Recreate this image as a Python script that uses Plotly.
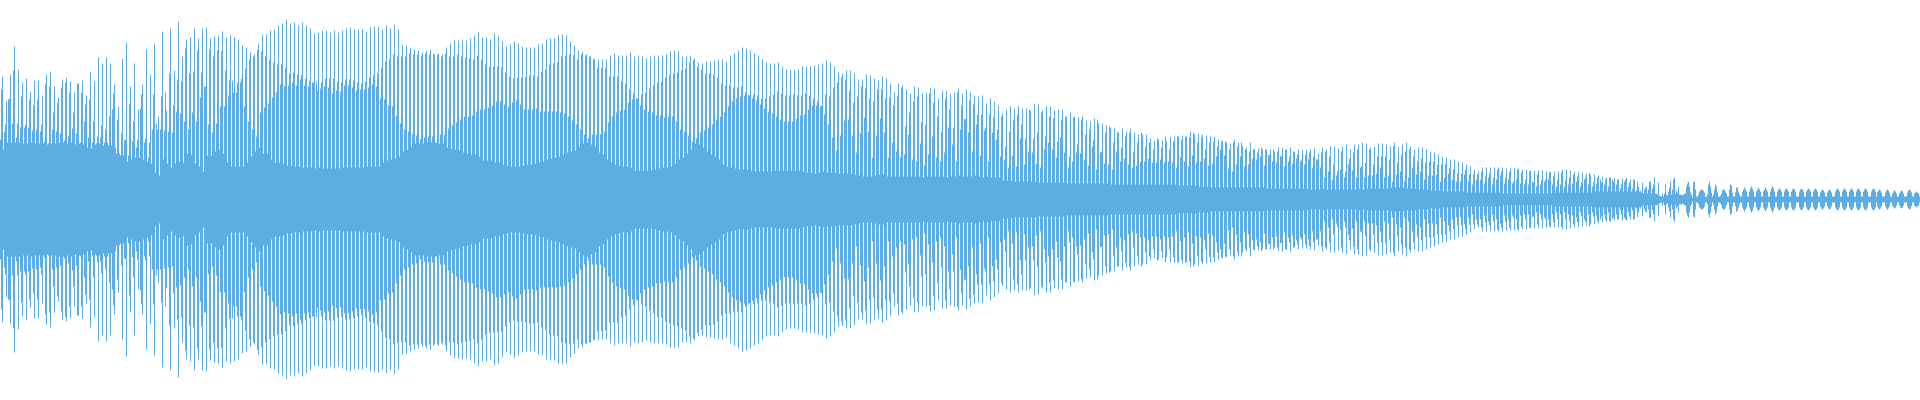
import plotly.graph_objects as go

# =====================================================
# WAVEFORM DATA (amplitude either side of the centre line)
# one value per repeat of the wave
# =====================================================

tall = [
    123,98,125,153,130,117,121,108,119,119,104,125,128,113,102,120,122,118,107,116,
    119,104,128,118,142,136,142,136,115,93,141,157,113,136,90,115,150,125,156,83,
    168,89,171,129,178,143,160,162,171,161,171,172,161,163,164,168,162,164,162,160,
    154,152,147,145,155,165,165,169,170,174,176,180,176,177,174,177,174,171,166,167,
    169,169,167,169,167,169,171,172,170,170,170,168,172,173,173,170,174,171,175,170,
    155,154,152,150,149,147,149,150,145,146,145,152,156,159,159,160,159,161,164,167,
    162,162,160,166,164,158,153,155,158,156,153,152,152,152,155,156,160,161,161,164,
    165,164,158,154,149,148,145,143,141,140,140,140,144,146,144,144,144,147,143,144,
    143,141,143,144,144,144,145,148,149,148,143,143,144,141,137,136,138,138,139,140,
    140,138,144,146,149,152,151,149,146,144,140,137,136,136,137,133,130,129,129,130,
    133,133,133,134,135,136,139,137,133,127,126,129,129,126,120,120,125,124,121,119,
    123,121,116,107,116,114,110,106,113,112,106,107,112,111,101,109,109,106,107,111,
    106,110,107,104,103,104,96,101,98,94,
    86,90,93,91,93,91,91,89,96,95,89,93,93,89,90,90,83,87,83,82,
    83,79,78,81,76,76,74,72,72,67,71,68,71,67,65,65,65,61,59,60,
    59,58,63,63,63,64,63,68,65,66,65,64,63,63,60,59,57,56,60,57,
    53,52,57,51,51,50,50,50,48,52,52,50,52,48,50,49,49,50,51,46,
    52,50,53,53,51,53,55,50,55,55,57,56,52,53,56,56,55,53,57,52,
    55,57,53,50,52,52,50,48,47,45,43,42,40,40,38,37,35,33,30,28,
    32,32,32,32,32,32,31,31,31,31,30,30,29,29,29,29,28,28,28,28,
    30,30,29,28,28,27,26,25,25,24,23,22,22,21,20,21,21,20,20,13,
    17,13,18,22,17,6,5,18,22,13,
]

upper = [
    110,75,101,129,76,103,75,100,94,100,75,115,113,87,97,112,117,107,87,116,
    107,95,100,78,63,74,70,83,106,80,66,60,96,78,60,105,61,57,105,70,
    103,107,126,94,120,118,151,126,128,149,127,113,150,143,149,148,129,119,107,117,
    121,131,140,143,150,148,143,140,137,135,135,132,126,127,125,124,121,119,117,109,
    117,121,121,121,118,117,120,120,119,117,116,118,122,124,126,132,138,140,145,143,
    143,143,146,145,145,144,146,145,146,145,143,146,143,143,145,143,142,141,140,144,
    140,135,133,133,133,132,127,123,121,122,122,123,124,124,123,128,130,135,136,137,
    143,144,145,144,140,145,144,143,140,132,132,131,123,123,123,118,116,110,106,101,
    105,107,111,114,117,118,122,124,126,127,129,131,137,139,133,130,126,126,125,122,
    116,114,114,112,112,113,107,104,105,104,101,101,103,105,108,106,104,104,105,104,
    104,106,104,101,98,94,105,103,112,117,122,120,109,97,103,113,111,101,98,110,
    110,101,102,94,104,112,73,87,98,103,77,75,106,97,83,68,101,90,72,107,
    94,80,99,95,85,85,72,85,82,70,
    83,53,68,80,85,75,61,90,61,67,87,63,83,81,58,80,83,43,82,55,
    80,65,70,60,80,48,67,73,57,67,52,63,67,48,57,67,53,57,50,61,
    52,63,50,58,63,60,63,62,67,57,62,50,57,58,53,58,58,50,57,53,
    57,50,48,50,47,52,50,45,50,48,43,50,43,48,45,40,45,47,43,40,
    47,48,43,35,28,48,28,41,47,50,33,37,50,35,43,43,43,40,53,37,
    45,48,50,43,38,41,37,38,38,35,35,35,32,30,26,26,30,25,25,25,
    28,23,26,22,30,28,22,28,18,30,27,20,28,17,25,20,20,27,23,20,
    27,20,22,25,23,17,22,27,17,22,17,20,22,18,20,15,20,17,20,18,
    7,12,18,15,5,3,15,12,20,7,
]

lower = [
    60,68,100,76,62,72,72,72,69,70,68,58,56,70,68,66,59,64,71,66,
    57,78,62,57,56,62,55,48,90,46,44,59,44,58,52,91,57,42,70,76,
    70,69,68,67,88,86,78,70,87,78,102,113,75,67,76,93,93,104,119,107,
    117,93,78,70,63,87,92,96,102,107,115,113,114,117,114,120,114,113,117,118,
    111,113,112,106,109,108,114,114,112,109,110,110,112,115,113,101,100,94,93,84,
    76,70,68,65,64,60,62,63,63,57,65,65,71,74,77,80,83,83,84,88,
    90,90,92,94,98,98,95,93,97,99,95,90,90,90,91,88,88,88,88,88,
    87,86,83,79,75,70,65,61,65,65,65,68,77,83,87,89,90,97,100,101,
    94,90,88,87,84,84,82,83,83,78,70,68,64,58,61,67,69,72,75,80,
    83,87,93,98,101,103,104,105,101,99,95,91,88,86,83,80,78,78,78,81,
    84,85,90,94,94,93,85,75,62,49,64,79,80,64,47,66,82,68,42,64,
    81,67,42,57,48,42,45,65,40,38,56,34,45,63,42,38,47,72,55,38,
    70,81,67,48,75,44,69,38,67,60,
    43,40,32,44,33,61,35,48,47,36,32,50,57,50,42,62,47,32,38,47,
    46,40,34,53,30,47,36,35,30,48,38,41,35,32,34,38,38,41,37,37,
    40,37,38,37,32,42,38,33,44,37,38,41,34,36,43,50,44,31,28,35,
    43,33,35,41,40,43,34,44,38,37,44,33,38,36,41,38,35,40,32,40,
    32,22,28,20,24,30,22,35,29,22,32,22,24,24,26,32,22,24,18,25,
    28,18,22,32,25,28,20,24,24,25,18,22,26,20,18,18,25,18,15,20,
    20,16,22,15,20,24,16,20,16,20,16,15,15,18,13,15,18,20,15,13,
    15,13,15,16,18,13,20,15,13,16,20,15,13,20,15,11,18,13,11,9,
    9,10,10,11,6,3,6,8,10,9,
]

core = [
    50,57,57,57,57,56,56,57,56,56,56,55,56,56,57,57,56,57,55,56,
    55,52,51,55,56,54,57,54,52,46,44,38,40,42,42,40,38,36,27,24,
    40,36,32,36,38,37,46,45,36,33,28,44,44,48,50,46,37,33,33,33,
    33,37,43,48,52,46,46,40,37,37,36,34,34,33,33,32,32,32,31,32,
    31,31,31,31,31,32,32,32,32,32,32,33,33,33,33,37,39,40,41,43,
    48,50,53,56,56,56,57,57,57,56,56,52,51,50,49,47,46,45,45,43,
    39,39,39,37,37,35,34,33,33,33,34,35,35,36,37,38,40,41,42,43,
    45,47,48,49,53,56,57,55,53,47,45,40,37,35,34,33,33,32,29,29,
    29,29,29,30,31,32,32,33,36,40,42,46,50,56,55,52,48,45,43,40,
    35,33,32,31,30,30,30,29,28,28,28,28,28,29,29,29,29,29,29,29,
    28,27,27,26,27,28,27,27,27,26,26,26,26,25,24,23,23,23,24,25,
    25,23,23,23,23,23,23,23,23,23,22,23,23,23,23,23,22,23,23,24,
    23,23,23,24,23,22,23,22,22,22,
    19,19,19,18,18,18,18,18,18,17,17,17,17,17,17,17,16,16,16,16,
    16,16,16,16,16,16,16,15,15,15,15,15,15,15,15,15,15,15,15,15,
    15,15,15,15,14,14,14,14,14,13,13,13,12,12,12,12,12,12,12,12,
    12,12,12,12,12,12,11,11,11,11,11,11,11,11,11,11,11,10,10,10,
    11,10,10,10,10,10,10,10,10,11,10,11,11,11,11,11,11,12,12,12,
    12,11,11,11,10,10,10,9,9,9,8,8,8,8,8,8,7,7,7,7,
    7,7,7,7,7,6,6,6,6,6,6,6,6,6,6,6,6,6,7,7,
    7,7,7,7,7,7,7,7,8,8,8,8,8,8,8,8,8,8,8,8,
    6,6,6,6,4,3,4,5,6,5,
]

# the end of the wave has no spikes, so it is read column by column
tail = [
    5,5,4,5,6,6,13,16,18,13,7,5,2,17,18,10,3,3,5,8,
    9,10,10,9,7,3,3,5,15,18,13,7,3,5,10,15,13,7,3,3,
    4,6,9,10,10,8,6,3,3,10,15,14,7,3,3,7,12,12,8,5,
    3,3,8,10,12,10,8,3,3,8,11,13,11,8,3,3,8,10,12,10,8,3,
    3,8,10,12,10,8,3,3,8,11,13,11,8,3,3,8,10,11,10,8,3,
    3,8,10,11,10,8,3,3,8,10,11,10,8,3,3,3,8,10,11,10,8,3,
    3,8,10,11,10,8,3,3,8,10,11,10,8,3,3,7,9,10,9,7,3,
    3,7,9,10,9,7,3,3,3,8,10,11,10,8,3,3,8,10,11,10,8,3,
    3,8,10,11,10,8,3,3,8,10,11,10,8,3,3,8,10,11,10,8,3,
    3,3,8,10,11,10,8,3,7,9,10,9,7,3,3,3,7,9,10,9,7,3,
    3,6,8,9,8,6,3,3,6,8,9,8,6,3,3,3,7,9,10,9,7,3,
    3,6,7,8,7,6,3,
]

COLOR = "#5dade2"


def bars(x, amps, width):
    return go.Bar(
        x=x,
        y=[2 * a for a in amps],
        base=[-a for a in amps],
        width=width,
        marker=dict(color=COLOR, line=dict(width=0)),
        hoverinfo="skip",
    )


fig = go.Figure()

fig.add_trace(bars([4 * i + 2 for i in range(len(core))], core, 4))
fig.add_trace(bars([4 * i + 0.5 for i in range(len(lower))], lower, 1))
fig.add_trace(bars([4 * i + 1.5 for i in range(len(upper))], upper, 1))
fig.add_trace(bars([4 * i + 2.5 for i in range(len(tall))], tall, 1))
fig.add_trace(bars([4 * len(core) + i + 0.5 for i in range(len(tail))], tail, 1))

fig.update_layout(
    width=1920,
    height=400,
    margin=dict(l=0, r=0, t=0, b=0),
    barmode="overlay",
    showlegend=False,
    plot_bgcolor="white",
    paper_bgcolor="white",
    xaxis=dict(range=[0, 1920], visible=False, fixedrange=True),
    yaxis=dict(range=[-200.5, 199.5], visible=False, fixedrange=True),
)

fig.write_html(
    "out.html",
    config=dict(displayModeBar=False),
    post_script="document.body.style.margin = '0';",
)
